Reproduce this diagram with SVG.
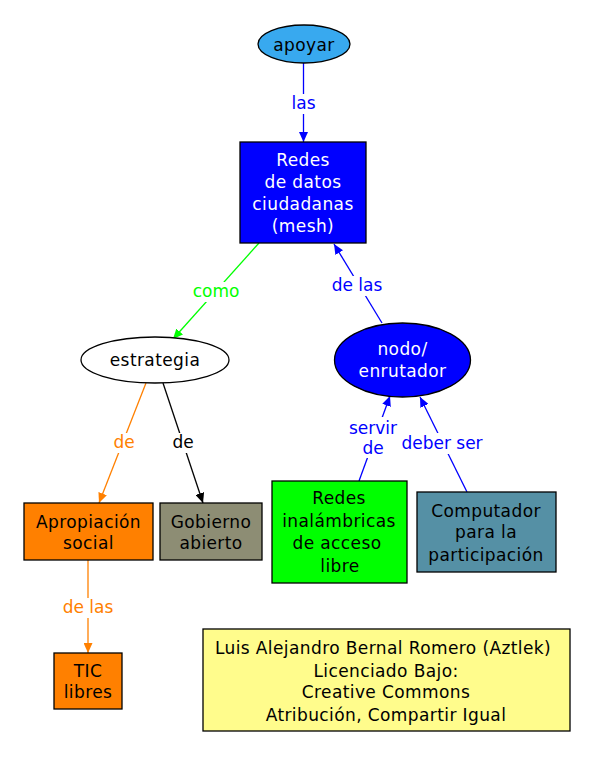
<svg xmlns="http://www.w3.org/2000/svg" width="594" height="758" viewBox="0 0 594 758">
<style>
.n{font-family:"DejaVu Sans","Liberation Sans",sans-serif;font-size:17px;letter-spacing:0.4px;text-anchor:middle;fill:#000}
.w{fill:#fff}
.l{font-family:"DejaVu Sans","Liberation Sans",sans-serif;font-size:17px;text-anchor:middle}
.s{stroke:#000;stroke-width:1.3}
.e{fill:none;stroke-width:1.3}
.bg{fill:#fff;stroke:none}
</style>
<defs>
<marker id="ab" markerUnits="userSpaceOnUse" markerWidth="11" markerHeight="9" refX="10" refY="4.5" orient="auto"><path d="M0,0 L10,4.5 L0,9 z" fill="#0000ff"/></marker>
<marker id="ag" markerUnits="userSpaceOnUse" markerWidth="11" markerHeight="9" refX="10" refY="4.5" orient="auto"><path d="M0,0 L10,4.5 L0,9 z" fill="#00ff00"/></marker>
<marker id="ao" markerUnits="userSpaceOnUse" markerWidth="11" markerHeight="9" refX="10" refY="4.5" orient="auto"><path d="M0,0 L10,4.5 L0,9 z" fill="#ff8000"/></marker>
<marker id="ak" markerUnits="userSpaceOnUse" markerWidth="11" markerHeight="9" refX="10" refY="4.5" orient="auto"><path d="M0,0 L10,4.5 L0,9 z" fill="#000"/></marker>
</defs>
<rect width="594" height="758" fill="#fff"/>
<g id="connectors">
<line class="e" x1="303.5" y1="63" x2="303.5" y2="142" stroke="#0000ff" marker-end="url(#ab)"/>
<rect class="bg" x="289" y="94" width="29" height="20"/>
<text class="l" x="303.5" y="109" fill="#0000ff">las</text>
<line class="e" x1="259" y1="243" x2="173" y2="339" stroke="#00ff00" marker-end="url(#ag)"/>
<rect class="bg" x="192" y="282" width="49" height="20"/>
<text class="l" x="216" y="297" fill="#00ff00">como</text>
<line class="e" x1="382" y1="323" x2="334" y2="244" stroke="#0000ff" marker-end="url(#ab)"/>
<rect class="bg" x="331" y="276" width="52" height="20"/>
<text class="l" x="357" y="291" fill="#0000ff">de las</text>
<line class="e" x1="146" y1="383" x2="99" y2="503" stroke="#ff8000" marker-end="url(#ao)"/>
<rect class="bg" x="112" y="433" width="24" height="20"/>
<text class="l" x="124" y="448" fill="#ff8000">de</text>
<line class="e" x1="163" y1="383" x2="203" y2="503" stroke="#000" marker-end="url(#ak)"/>
<rect class="bg" x="171" y="433" width="24" height="20"/>
<text class="l" x="183" y="448" fill="#000">de</text>
<line class="e" x1="88" y1="560" x2="88" y2="653" stroke="#ff8000" marker-end="url(#ao)"/>
<rect class="bg" x="62" y="598" width="52" height="20"/>
<text class="l" x="88" y="613" fill="#ff8000">de las</text>
<line class="e" x1="359" y1="481" x2="390" y2="396" stroke="#0000ff" marker-end="url(#ab)"/>
<rect class="bg" x="348" y="417" width="50" height="41"/>
<text class="l" x="373" y="434" fill="#0000ff">servir</text>
<text class="l" x="373" y="454" fill="#0000ff">de</text>
<line class="e" x1="467" y1="492" x2="420" y2="397" stroke="#0000ff" marker-end="url(#ab)"/>
<rect class="bg" x="400" y="433" width="84" height="21"/>
<text class="l" x="442" y="449" fill="#0000ff">deber ser</text>
</g>
<g id="apoyar">
<ellipse class="s" cx="304" cy="44" rx="46" ry="19" fill="#38a9ef"/>
<text class="n" x="304" y="51">apoyar</text>
</g>
<g id="redes">
<rect class="s" x="240" y="142" width="126" height="101" fill="#0000ff"/>
<text class="n w" x="303" y="166">Redes</text>
<text class="n w" x="303" y="188">de datos</text>
<text class="n w" x="303" y="210">ciudadanas</text>
<text class="n w" x="303" y="232">(mesh)</text>
</g>
<g id="estrategia">
<ellipse class="s" cx="155" cy="360" rx="74" ry="23" fill="#fff"/>
<text class="n" x="155" y="366">estrategia</text>
</g>
<g id="nodo">
<ellipse class="s" cx="402.5" cy="360" rx="68" ry="37" fill="#0000ff"/>
<text class="n w" x="402.5" y="355">nodo/</text>
<text class="n w" x="402.5" y="377">enrutador</text>
</g>
<g id="apropiacion">
<rect class="s" x="24" y="503" width="129" height="57" fill="#ff8000"/>
<text class="n" x="88.5" y="528">Apropiación</text>
<text class="n" x="88.5" y="549">social</text>
</g>
<g id="gobierno">
<rect class="s" x="160" y="503" width="102" height="57" fill="#8d8d74"/>
<text class="n" x="211" y="528">Gobierno</text>
<text class="n" x="211" y="549">abierto</text>
</g>
<g id="inalambricas">
<rect class="s" x="272" y="481" width="135" height="102" fill="#00ff00"/>
<text class="n" x="339" y="504">Redes</text>
<text class="n" x="339" y="527">inalámbricas</text>
<text class="n" x="337" y="549">de acceso</text>
<text class="n" x="340" y="572">libre</text>
</g>
<g id="computador">
<rect class="s" x="417" y="492" width="139" height="80" fill="#5590a5"/>
<text class="n" x="486" y="517">Computador</text>
<text class="n" x="486" y="538">para la</text>
<text class="n" x="486" y="561">participación</text>
</g>
<g id="tic">
<rect class="s" x="54" y="653" width="68" height="56" fill="#ff8000"/>
<text class="n" x="88" y="677">TIC</text>
<text class="n" x="88" y="698">libres</text>
</g>
<g id="licencia">
<rect class="s" x="203" y="629" width="367" height="102" fill="#fffc8c"/>
<text class="n" x="383" y="654">Luis Alejandro Bernal Romero (Aztlek)</text>
<text class="n" x="386" y="677">Licenciado Bajo:</text>
<text class="n" x="386" y="698">Creative Commons</text>
<text class="n" x="386" y="721">Atribución, Compartir Igual</text>
</g>
</svg>
